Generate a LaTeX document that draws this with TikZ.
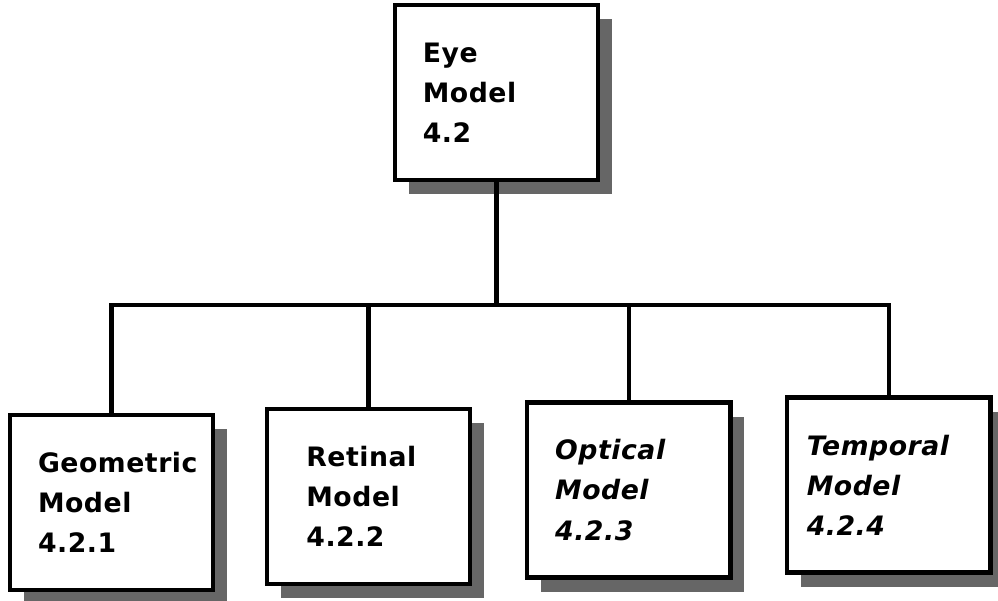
\documentclass[tikz,border=0pt]{standalone}
\usepackage{fontspec}
\newfontfamily\boxfont{DejaVu Sans}[LetterSpace=2]
\usetikzlibrary{
positioning,
shadows
}
\tikzset{
modelbox/.style={
draw,
line width=3pt,
fill=white,
align=left,
text width=3.68cm,
inner xsep=0.7cm,
minimum height=4.375cm,
font=\boxfont\bfseries\fontsize{19}{28.5}\selectfont,
drop shadow={shadow xshift=0.35cm, shadow yshift=-0.35cm, fill=black!60, opacity=1}
},
link/.style={
line width=3.2pt
}
}
\begin{document}
\begin{tikzpicture}
\useasboundingbox (0,0) rectangle (24.95,15);
\node[modelbox] (eye) at (12.41,12.69) {Eye\\Model\\4.2};
\node[modelbox] (geo) at (2.79,2.44) {Geometric\\Model\\4.2.1};
\node[modelbox, text width=3.1cm, inner xsep=0.99cm] (ret) at (9.21,2.59) {Retinal\\Model\\4.2.2};
\node[modelbox] (opt) at (15.72,2.75) {\itshape Optical\\\itshape Model\\\itshape 4.2.3};
\node[modelbox, text width=4.1cm, inner xsep=0.49cm] (tmp) at (22.22,2.875) {\itshape Temporal\\\itshape Model\\\itshape 4.2.4};
\coordinate (bar) at (12.41,7.375);

\draw[link] (eye.south) -- (bar);
\draw[link] (geo.north) |- (bar);
\draw[link] (ret.north) |- (bar);
\draw[link] (opt.north) |- (bar);
\draw[link] (tmp.north) |- (bar);
\end{tikzpicture}
\end{document}
